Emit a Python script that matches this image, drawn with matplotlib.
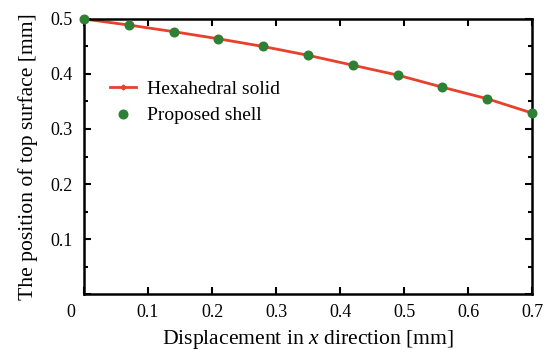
import matplotlib
matplotlib.use("Agg")
import matplotlib.pyplot as plt
from matplotlib.ticker import MultipleLocator
from matplotlib.transforms import ScaledTranslation

plt.rcParams['font.family'] = ['Liberation Serif', 'DejaVu Serif']
plt.rcParams['mathtext.fontset'] = 'custom'
plt.rcParams['mathtext.it'] = 'Liberation Serif:italic'
plt.rcParams['mathtext.rm'] = 'Liberation Serif'

x_disp = [0.0, 0.07, 0.14, 0.21, 0.28, 0.35, 0.42, 0.49, 0.56, 0.63, 0.70]
y_hexa = [0.500, 0.489, 0.477, 0.464, 0.450, 0.434, 0.416, 0.398, 0.376, 0.355, 0.329]
y_shell = [0.500, 0.489, 0.477, 0.464, 0.450, 0.434, 0.416, 0.398, 0.376, 0.355, 0.329]
x_ticks = [0, 0.1, 0.2, 0.3, 0.4, 0.5, 0.6, 0.7]
x_ticklabels = ['0', '0.1', '0.2', '0.3', '0.4', '0.5', '0.6', '0.7']
y_ticks = [0, 0.1, 0.2, 0.3, 0.4, 0.5]
y_ticklabels = ['', '0.1', '0.2', '0.3', '0.4', '0.5']

fig = plt.figure(figsize=(5.47, 3.55), dpi=100)
ax = fig.add_axes([0.1536, 0.1718, 0.819, 0.7747])

ax.plot(x_disp, y_hexa, color='#e8402c', lw=2.0, marker='D', ms=2.5,
        label='Hexahedral solid', zorder=2)
ax.plot(x_disp, y_shell, color='#2e8035', lw=0, marker='o', ms=6.2,
        label='Proposed shell', zorder=3, clip_on=False)

ax.set_xlim(0, 0.7)
ax.set_ylim(0, 0.5)
ax.set_xticks(x_ticks)
ax.set_xticklabels(x_ticklabels)
ax.set_yticks(y_ticks)
ax.set_yticklabels(y_ticklabels)
ax.yaxis.set_minor_locator(MultipleLocator(0.05))

ax.tick_params(which='both', direction='in', top=True, right=True, labelsize=13,
               width=1.5, color='black')
ax.tick_params(which='major', length=5)
ax.tick_params(axis='x', which='major', pad=7)
ax.tick_params(axis='y', which='major', pad=8)
ax.tick_params(which='minor', length=3)
for s in ax.spines.values():
    s.set_linewidth(1.8)

# shared corner "0" label sits left of the origin
lbl0 = ax.get_xticklabels()[0]
lbl0.set_transform(lbl0.get_transform() + ScaledTranslation(-13/100, 0, fig.dpi_scale_trans))

ax.set_xlabel('Displacement in $x$ direction [mm]', fontsize=15.6, labelpad=5)
ax.set_ylabel('The position of top surface [mm]', fontsize=15.6, labelpad=9)

ax.legend(loc='upper left', bbox_to_anchor=(0.02, 0.84), frameon=False,
          fontsize=14, handlelength=1.3, handletextpad=0.6, labelspacing=0.45)

fig.savefig('out.png', dpi=100)
